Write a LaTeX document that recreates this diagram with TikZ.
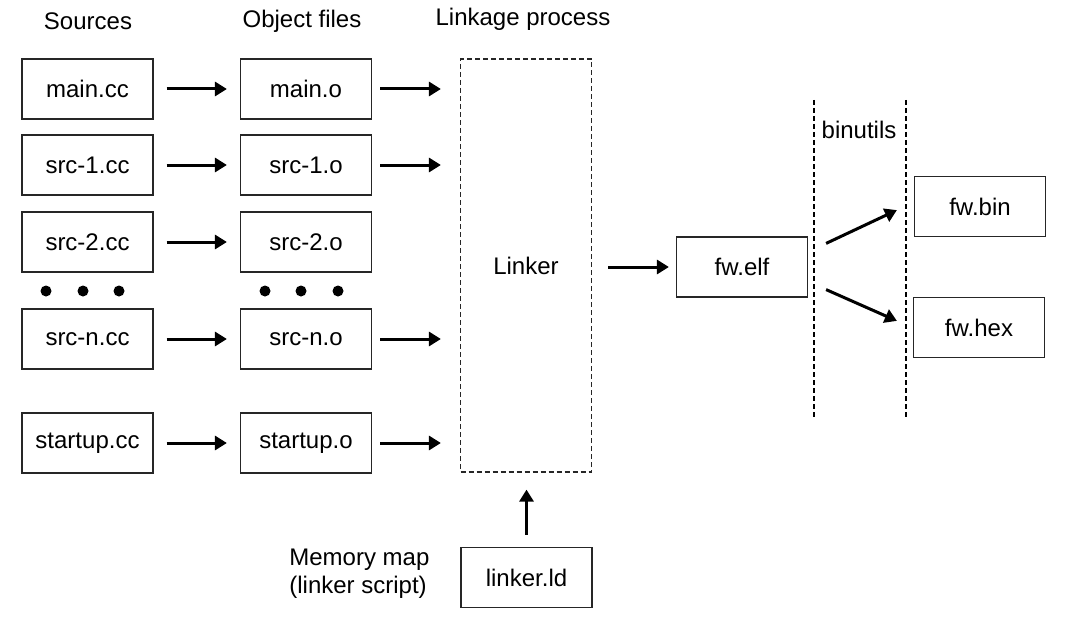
\documentclass[tikz,border=0pt]{standalone}
\usepackage{fontspec}
\setmainfont{Liberation Sans}
\usetikzlibrary{arrows.meta,positioning}

\begin{document}
\begin{tikzpicture}[x=0.5pt, y=-0.5pt,
  nodebox/.style={rectangle, draw=black!85, line width=0.6pt, minimum width=65.5pt, minimum height=30pt, inner sep=0pt, font=\fontsize{12}{14}\selectfont},
  dashbox/.style={nodebox, dash pattern=on 2.5pt off 1.5pt},
  caption/.style={inner sep=0pt, font=\fontsize{12}{14}\selectfont},
  arr/.style={-{Triangle[length=6pt, width=7pt]}, line width=1.5pt},
  dashline/.style={line width=0.6pt, dash pattern=on 2.5pt off 1.5pt},
  bigdot/.style={circle, fill, inner sep=0pt, minimum size=5.5pt}
]
  \useasboundingbox (0,0) rectangle (1065,626);

  % column titles
  \node[caption] (srctitle) at (88,21) {Sources};
  \node[caption] (objtitle) at (302,21) {Object files};
  \node[caption] (linktitle) at (523,19) {Linkage process};

  % sources
  \node[nodebox] (main) at (87.5,89) {main.cc};
  \node[nodebox] (src1) at (87.5,165) {src-1.cc};
  \node[nodebox] (src2) at (87.5,242) {src-2.cc};
  \node[nodebox] (srcn) at (87.5,339) {src-n.cc};
  \node[nodebox] (startup) at (87.5,443) {startup.cc};

  % object files
  \node[nodebox] (maino) at (306,89) {main.o};
  \node[nodebox] (src1o) at (306,165) {src-1.o};
  \node[nodebox] (src2o) at (306,242) {src-2.o};
  \node[nodebox] (srcno) at (306,339) {src-n.o};
  \node[nodebox] (startupo) at (306,443) {startup.o};

  % ellipsis dots
  \foreach \x in {46,83,119,265,301,338}
    \node[bigdot] at (\x,291) {};

  % linker and outputs
  \node[dashbox, minimum height=206.5pt] (linker) at (526,265.5) {Linker};
  \node[nodebox] (elf) at (742,267) {fw.elf};
  \node[nodebox] (bin) at (980,206.5) {fw.bin};
  \node[nodebox] (hex) at (979,327.5) {fw.hex};
  \node[nodebox] (ld) at (526.5,577.5) {linker.ld};
  \node[caption, align=left, anchor=west] (memmap) at (289,574) {Memory map\\(linker script)};

  % binutils stage
  \draw[dashline] (814,100) -- (814,420);
  \draw[dashline] (906,100) -- (906,420);
  \node[caption] (binutils) at (859,130) {binutils};

  % compile
  \foreach \s/\o in {main/maino, src1/src1o, src2/src2o, srcn/srcno, startup/startupo}
    \draw[arr, shorten <=6.5pt, shorten >=6.5pt] (\s) -- (\o);

  % link
  \foreach \o in {maino, src1o, srcno, startupo}
    \draw[arr, shorten <=4pt, shorten >=9.5pt] (\o) -- (\o -| linker.west);
  \draw[arr, shorten <=8pt, shorten >=3.5pt] (linker.east |- elf) -- (elf);
  \draw[arr, shorten <=6pt, shorten >=8.5pt] (ld) -- (ld |- linker.south);

  % convert
  \draw[arr] ([shift={(18,7)}]elf.north east) -- ([shift={(-17,-27)}]bin.south west);
  \draw[arr] ([shift={(18,-8)}]elf.south east) -- ([shift={(-16,24)}]hex.north west);
\end{tikzpicture}
\end{document}
